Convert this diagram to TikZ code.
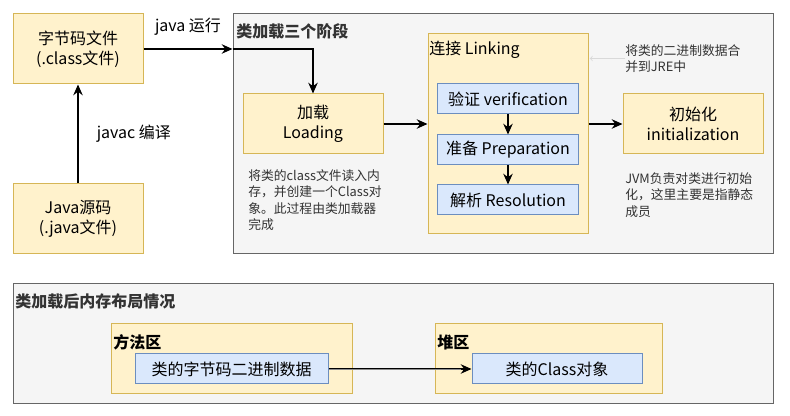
\documentclass[tikz,border=0pt]{standalone}
\usepackage{fontspec}
\setmainfont{Noto Sans CJK SC}
\definecolor{colorBoxFill}{HTML}{FFF2CC}
\definecolor{colorBoxLine}{HTML}{D6B656}
\definecolor{colorSubFill}{HTML}{DAE8FC}
\definecolor{colorSubLine}{HTML}{6C8EBF}
\definecolor{colorAreaFill}{HTML}{F5F5F5}
\definecolor{colorAreaLine}{HTML}{666666}
\definecolor{colorAreaText}{HTML}{333333}
\usetikzlibrary{arrows, arrows.meta, positioning}
\tikzset{
  stagebox/.style={draw=colorBoxLine, fill=colorBoxFill, line width=0.75pt, align=center, inner sep=0pt, font=\fontsize{12}{15}\selectfont},
  subbox/.style={draw=colorSubLine, fill=colorSubFill, line width=0.75pt, inner sep=0pt, minimum width=105.75pt, minimum height=22.5pt, font=\fontsize{12}{15}\selectfont},
  areabox/.style={draw=colorAreaLine, fill=colorAreaFill, line width=0.75pt, inner sep=0pt},
  areatitle/.style={text=colorAreaText, inner sep=0pt, anchor=west, font=\fontsize{12}{15}\selectfont\bfseries},
  boxtitle/.style={inner sep=0pt, anchor=west, font=\fontsize{12}{15}\selectfont},
  notetext/.style={text=colorAreaText, inner sep=0pt, anchor=north west, align=left, font=\fontsize{9.6}{12.4}\selectfont},
  flow/.style={->, line width=1.5pt},
  notearrow/.style={-to, draw=black!15, line width=0.6pt}
}
\begin{document}
\begin{tikzpicture}[>={Stealth[length=8pt, width=7pt, inset=2.5pt]}, x=0.75pt, y=-0.75pt]
\useasboundingbox (0,0) rectangle (790,416);
% source files
\node[stagebox, minimum width=97.5pt, minimum height=52.5pt] (bytecode) at (78,49) {字节码文件\\(.class文件)};
\node[stagebox, minimum width=97.5pt, minimum height=52.5pt] (source) at (78,219) {Java源码\\(.java文件)};
\draw[flow] (source) -- node[right=10pt, font=\fontsize{12}{15}\selectfont] {javac 编译} (bytecode);

% three stages
\node[areabox, minimum width=405pt, minimum height=180pt] (stages) at (503,134) {};
\node[areatitle] (stagestitle) at (236,31) {类加载三个阶段};
\node[stagebox, minimum width=105pt, minimum height=45pt] (loading) at (313,124) {加载\\Loading};
\node[stagebox, minimum width=120pt, minimum height=150pt] (linking) at (508,134) {};
\node[boxtitle] (linkingtitle) at (429,50) {连接 Linking};
\node[subbox] (verify) at (508,99) {验证 verification};
\node[subbox, below=15pt of verify] (prepare) {准备 Preparation};
\node[subbox, below=14.25pt of prepare] (resolve) {解析 Resolution};
\node[stagebox, minimum width=105pt, minimum height=45pt] (init) at (693,124) {初始化\\initialization};
\node[notetext] (loadingnote) at (248,169) {将类的class文件读入内\\存，并创建一个Class对\\象。此过程由类加载器\\完成};
\node[notetext] (linkingnote) at (625,44) {将类的二进制数据合\\并到JRE中};
\node[notetext] (initnote) at (625,172) {JVM负责对类进行初始\\化，这里主要是指静态\\成员};

\draw[flow] (bytecode) -- node[above=6pt, font=\fontsize{12}{15}\selectfont] {java 运行} (bytecode -| stages.west);
\draw[flow] (bytecode -| stages.west) -| (loading);
\draw[flow] (loading.east) -- (loading.east -| linking.west);
\draw[flow] (init.west -| linking.east) -- (init.west);
\draw[flow] (verify) -- (prepare);
\draw[flow] (prepare) -- (resolve);
\draw[notearrow] (linkingnote.west) -- ([xshift=1pt]linkingnote.west -| linking.east);

% memory layout
\node[areabox, minimum width=570pt, minimum height=90pt] (memory) at (393,344) {};
\node[areatitle] (memorytitle) at (15,301) {类加载后内存布局情况};
\node[stagebox, minimum width=180.75pt, minimum height=52.5pt] (method) at (231.5,359) {};
\node[boxtitle, font=\fontsize{12}{15}\selectfont\bfseries] (methodtitle) at (113,342) {方法区};
\node[subbox, minimum width=144.75pt] (bytedata) at (231.5,369) {类的字节码二进制数据};
\node[stagebox, minimum width=170.25pt, minimum height=52.5pt] (heap) at (548.5,359) {};
\node[boxtitle, font=\fontsize{12}{15}\selectfont\bfseries] (heaptitle) at (437,342) {堆区};
\node[subbox, minimum width=127.5pt] (classobj) at (557,369) {类的Class对象};
\draw[flow, line width=2pt] (bytedata) -- (classobj);
\draw[black!45, line width=0.6pt, shorten >=8pt] (bytedata) -- (classobj);
\end{tikzpicture}
\end{document}
